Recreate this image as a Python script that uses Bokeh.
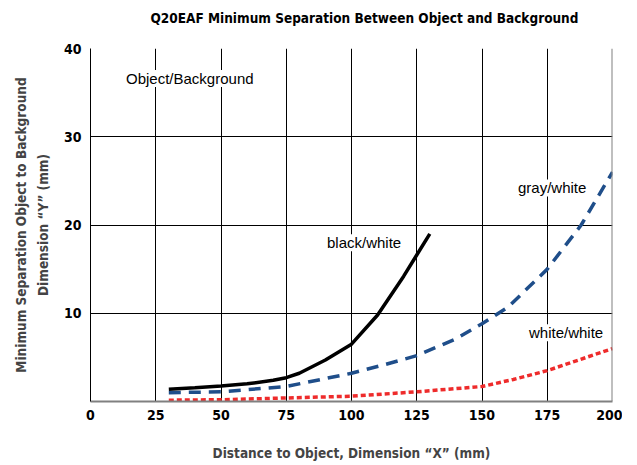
from bokeh.plotting import figure
from bokeh.models import (Range1d, FixedTicker, LinearAxis, Label, Span, Title)
from bokeh.embed import file_html
from bokeh.resources import INLINE

# ---- data ----
bw_x = [30, 40, 50, 60, 70, 75, 80, 90, 100, 110, 120, 125, 130]
bw_y = [1.4, 1.55, 1.75, 2.0, 2.4, 2.7, 3.2, 4.7, 6.5, 9.8, 14.2, 16.6, 19.0]

gw_x = [30, 50, 75, 100, 113, 125, 140, 150, 160, 175, 188, 200]
gw_y = [1.0, 1.1, 1.7, 3.2, 4.2, 5.2, 7.1, 8.8, 10.7, 15.0, 20.0, 26.0]

ww_x = [30, 50, 75, 100, 125, 150, 162, 175, 187, 200]
ww_y = [0.15, 0.2, 0.4, 0.6, 1.1, 1.7, 2.5, 3.5, 4.7, 6.0]

x_ticks = [0, 25, 50, 75, 100, 125, 150, 175, 200]
y_ticks = [10, 20, 30, 40]

title_text = "Q20EAF Minimum Separation Between Object and Background"
x_label = "Distance to Object, Dimension \u201cX\u201d (mm)"
y_label1 = "Minimum Separation Object to Background"
y_label2 = "Dimension \u201cY\u201d (mm)"

labels = [
    ("Object/Background", 13.6, 36.6),
    ("black/white", 90.6, 18.0),
    ("gray/white", 163.8, 24.2),
    ("white/white", 168.0, 7.8),
]

BOLD_FONT = "DejaVu Sans Condensed, sans-serif"
REG_FONT = "Liberation Sans, Arial, sans-serif"

p = figure(frame_width=522, frame_height=353, output_backend="svg", toolbar_location=None,
           x_range=Range1d(0, 200), y_range=Range1d(0, 40),
           min_border_left=90, min_border_right=10, min_border_top=48,
           min_border_bottom=50, title=None)

# trailing newline lifts the single visible title line within the top border
t = Title(text=title_text + "\n", align="left", offset=60, text_font=BOLD_FONT,
          text_font_size="13.5px", text_font_style="bold", text_color="black",
          standoff=14)
p.add_layout(t, "above")

p.outline_line_color = None
p.background_fill_color = "white"
p.border_fill_color = "white"

# grid
p.xgrid.ticker = FixedTicker(ticks=x_ticks)
p.ygrid.ticker = FixedTicker(ticks=y_ticks)
p.xgrid.grid_line_color = "black"
p.ygrid.grid_line_color = "black"
p.xgrid.grid_line_width = 1
p.ygrid.grid_line_width = 1

# x axis
xa = p.xaxis[0]
xa.ticker = FixedTicker(ticks=x_ticks)
xa.axis_label = x_label
xa.axis_line_color = "#808080"
xa.axis_line_width = 2
xa.major_tick_line_color = None
xa.minor_tick_line_color = None
xa.major_tick_out = 0
xa.major_tick_in = 0
xa.major_label_text_font = BOLD_FONT
xa.major_label_text_font_style = "bold"
xa.major_label_text_font_size = "14px"
xa.major_label_text_color = "black"
xa.major_label_standoff = 8
xa.axis_label_text_font = BOLD_FONT
xa.axis_label_text_font_style = "bold"
xa.axis_label_text_font_size = "13.5px"
xa.axis_label_standoff = 22

# y axis
ya = p.yaxis[0]
ya.ticker = FixedTicker(ticks=y_ticks)
ya.axis_label = y_label2
ya.axis_line_color = "black"
ya.axis_line_width = 1
ya.major_tick_line_color = None
ya.minor_tick_line_color = None
ya.major_tick_out = 0
ya.major_tick_in = 0
ya.major_label_text_font = BOLD_FONT
ya.major_label_text_font_style = "bold"
ya.major_label_text_font_size = "14px"
ya.major_label_text_color = "black"
ya.major_label_standoff = 9
ya.axis_label_text_font = BOLD_FONT
ya.axis_label_text_font_style = "bold"
ya.axis_label_text_font_size = "13.5px"
ya.axis_label_standoff = 10

ya2 = LinearAxis(axis_label=y_label1, ticker=FixedTicker(ticks=[]),
                 axis_line_color=None, major_tick_line_color=None,
                 minor_tick_line_color=None, major_tick_out=0, major_tick_in=0,
                 major_label_text_font_size="0px",
                 axis_label_text_font=BOLD_FONT, axis_label_text_font_style="bold",
                 axis_label_text_font_size="13.5px", axis_label_standoff=3)
p.add_layout(ya2, "left")

# right border
p.add_layout(Span(location=200, dimension="height", line_color="#808080", line_width=2))

# curves
p.line(ww_x, ww_y, line_color="#ee2b2b", line_width=3.5, line_dash="5 3")
p.line(gw_x, gw_y, line_color="#1f4e8a", line_width=3.5, line_dash="12 8")
p.line(bw_x, bw_y, line_color="black", line_width=3.5)

for txt, lx, ly in labels:
    p.add_layout(Label(x=lx, y=ly, text=txt, text_font=REG_FONT,
                       text_font_size="15px", text_baseline="middle",
                       text_align="left", background_fill_color="white",
                       text_color="black"))

open("out.html", "w").write(file_html(p, INLINE))
